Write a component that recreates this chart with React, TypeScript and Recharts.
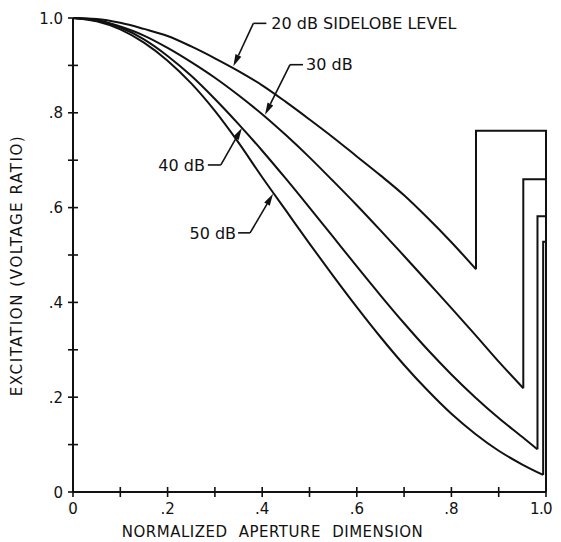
import React from "react";
import { LineChart, Line, XAxis, YAxis, ReferenceDot, Label } from "recharts";

// ---- Data ----
const curveX = [0, 0.05, 0.1, 0.15, 0.2, 0.25, 0.3, 0.35, 0.4, 0.45, 0.5, 0.55, 0.6, 0.65, 0.7, 0.75, 0.8, 0.85, 0.9, 0.95];

const x20 = curveX.slice(0, 17).concat([0.852]);
const y20 = [1.0, 0.998, 0.99, 0.977, 0.962, 0.94, 0.915, 0.888, 0.858, 0.823, 0.786, 0.748, 0.708, 0.668, 0.626, 0.578, 0.527, 0.47];
const step20X = [0.852, 0.852, 1.0, 1.0];
const step20Y = [0.47, 0.762, 0.762, 0];

const x30 = curveX.slice(0, 19).concat([0.952]);
const y30 = [1.0, 0.996, 0.982, 0.963, 0.937, 0.907, 0.874, 0.837, 0.797, 0.753, 0.706, 0.656, 0.605, 0.552, 0.498, 0.443, 0.388, 0.332, 0.275, 0.219];
const step30X = [0.952, 0.952, 1.0, 1.0];
const step30Y = [0.219, 0.66, 0.66, 0];

const x40 = curveX.concat([0.982]);
const y40 = [1.0, 0.994, 0.98, 0.955, 0.92, 0.878, 0.829, 0.776, 0.72, 0.661, 0.6, 0.538, 0.476, 0.415, 0.356, 0.3, 0.248, 0.2, 0.156, 0.116, 0.09];
const step40X = [0.982, 0.982, 1.0, 1.0];
const step40Y = [0.09, 0.582, 0.582, 0];

const x50 = curveX.concat([0.994]);
const y50 = [1.0, 0.993, 0.976, 0.948, 0.91, 0.862, 0.804, 0.737, 0.664, 0.594, 0.524, 0.456, 0.39, 0.327, 0.268, 0.214, 0.165, 0.123, 0.087, 0.058, 0.036];
const step50X = [0.994, 0.994, 1.0, 1.0];
const step50Y = [0.036, 0.528, 0.528, 0];

const xTicks = [0, 0.1, 0.2, 0.3, 0.4, 0.5, 0.6, 0.7, 0.8, 0.9, 1.0];
const xTickLabels = ["0", "", ".2", "", ".4", "", ".6", "", ".8", "", "1.0"];
const yTicks = [0, 0.1, 0.2, 0.3, 0.4, 0.5, 0.6, 0.7, 0.8, 0.9, 1.0];
const yTickLabels = ["0", "", ".2", "", ".4", "", ".6", "", ".8", "", "1.0"];

const xTitle = "NORMALIZED APERTURE DIMENSION";
const yTitle = "EXCITATION (VOLTAGE RATIO)";

const annotationLabels = ["20 dB SIDELOBE LEVEL", "30 dB", "40 dB", "50 dB"];
const annotationX = [0.339, 0.406, 0.357, 0.423];
const annotationY = [0.898, 0.796, 0.768, 0.629];

// ---- Layout / style (kept separate from data) ----
const FONT = "'DejaVu Sans', sans-serif";
const INK = "#111";
const leaderLayout = [
  { kx: 20, ky: -43, hx: 33, tx: 38, anchor: "start" },
  { kx: 25, ky: -50, hx: 38, tx: 41, anchor: "start" },
  { kx: -21, ky: 37, hx: -34, tx: -37, anchor: "end" },
  { kx: -23, ky: 39, hx: -35, tx: -37, anchor: "end" },
];

const zip = (xs: number[], ys: number[]) => xs.map((x, i) => ({ x, y: ys[i] }));

const series = [
  { curve: zip(x20, y20), step: zip(step20X, step20Y) },
  { curve: zip(x30, y30), step: zip(step30X, step30Y) },
  { curve: zip(x40, y40), step: zip(step40X, step40Y) },
  { curve: zip(x50, y50), step: zip(step50X, step50Y) },
];

const XTick = (props: any) => {
  const { x, y, index } = props;
  const label = xTickLabels[index];
  const last = index === xTickLabels.length - 1;
  return (
    <g>
      <line x1={x} x2={x} y1={y - 5} y2={y + 5} stroke={INK} strokeWidth={1.6} />
      {label ? (
        <text
          x={last ? x + 6 : x}
          y={y + 22}
          textAnchor={last ? "end" : "middle"}
          fontSize={15}
          fontFamily={FONT}
          fill={INK}
          letterSpacing={last ? -0.6 : 0}
        >
          {label}
        </text>
      ) : null}
    </g>
  );
};

const YTick = (props: any) => {
  const { x, y, index } = props;
  const label = yTickLabels[index];
  return (
    <g>
      <line x1={x - 5} x2={x + 5} y1={y} y2={y} stroke={INK} strokeWidth={1.6} />
      {label ? (
        <text x={x - 10} y={y + 5.5} textAnchor="end" fontSize={15} fontFamily={FONT} fill={INK}>
          {label}
        </text>
      ) : null}
    </g>
  );
};

const makeAnnotation = (i: number) => (p: any) => {
  const { cx, cy } = p;
  const L = leaderLayout[i];
  const kx = cx + L.kx;
  const ky = cy + L.ky;
  const dx = cx - kx;
  const dy = cy - ky;
  const len = Math.sqrt(dx * dx + dy * dy);
  const ux = dx / len;
  const uy = dy / len;
  const bx = cx - ux * 12;
  const by = cy - uy * 12;
  const w = 3.2;
  const pts = `${cx},${cy} ${bx - uy * w},${by + ux * w} ${bx + uy * w},${by - ux * w}`;
  return (
    <g>
      <line x1={kx} y1={ky} x2={bx} y2={by} stroke={INK} strokeWidth={1.6} />
      <line x1={kx} y1={ky} x2={cx + L.hx} y2={ky} stroke={INK} strokeWidth={1.6} />
      <polygon points={pts} fill={INK} />
      <text x={cx + L.tx} y={ky + 5.8} textAnchor={L.anchor} fontSize={16} fontFamily={FONT} fill={INK}>
        {annotationLabels[i]}
      </text>
    </g>
  );
};

const XTitle = (props: any) => {
  const vb = props.viewBox;
  return (
    <text
      x={vb.x + vb.width / 2 - 37}
      y={vb.y + 45}
      textAnchor="middle"
      fontSize={15}
      fontFamily={FONT}
      fill={INK}
      letterSpacing={0.5}
      wordSpacing={6}
    >
      {xTitle}
    </text>
  );
};

const YTitle = (props: any) => {
  const vb = props.viewBox;
  const cx = 9;
  const cy = vb.y + vb.height / 2 + 10.5;
  return (
    <text
      x={cx}
      y={cy}
      dy="0.36em"
      textAnchor="middle"
      transform={`rotate(-90 ${cx} ${cy})`}
      fontSize={15}
      fontFamily={FONT}
      fill={INK}
      letterSpacing={1.6}
    >
      {yTitle}
    </text>
  );
};

export default function App() {
  return (
    <LineChart width={553} height={534} margin={{ top: 10, right: 15, left: 0, bottom: 0 }}>
      <XAxis
        type="number"
        dataKey="x"
        domain={[0, 1]}
        ticks={xTicks}
        interval={0}
        tickSize={0}
        tickMargin={0}
        tick={<XTick />}
        axisLine={{ stroke: INK, strokeWidth: 2 }}
        height={50}
      >
        <Label content={<XTitle />} />
      </XAxis>
      <YAxis
        type="number"
        dataKey="y"
        domain={[0, 1]}
        ticks={yTicks}
        interval={0}
        tickSize={0}
        tickMargin={0}
        tick={<YTick />}
        axisLine={{ stroke: INK, strokeWidth: 2 }}
        width={65}
      >
        <Label content={<YTitle />} />
      </YAxis>
      {series.map((s, i) => (
        <Line
          key={`c${i}`}
          data={s.curve}
          dataKey="y"
          type="monotone"
          stroke={INK}
          strokeWidth={2}
          dot={false}
          activeDot={false}
          isAnimationActive={false}
        />
      ))}
      {series.map((s, i) => (
        <Line
          key={`s${i}`}
          data={s.step}
          dataKey="y"
          type="linear"
          stroke={INK}
          strokeWidth={2}
          strokeLinejoin="miter"
          dot={false}
          activeDot={false}
          isAnimationActive={false}
        />
      ))}
      {annotationLabels.map((_, i) => (
        <ReferenceDot
          key={`a${i}`}
          x={annotationX[i]}
          y={annotationY[i]}
          r={0}
          shape={makeAnnotation(i)}
        />
      ))}
    </LineChart>
  );
}
